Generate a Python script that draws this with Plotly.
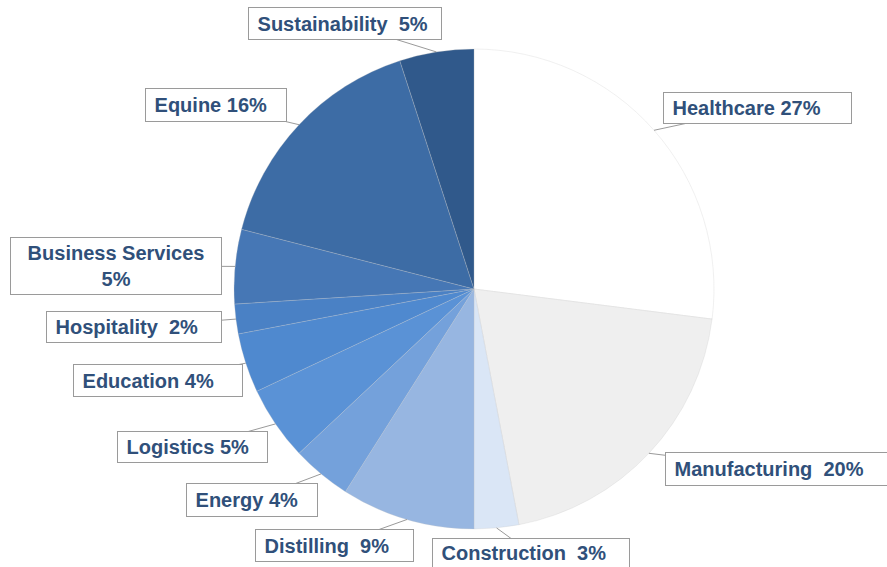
import math
import plotly.graph_objects as go

# ---- data ----
sectors = ["Healthcare", "Manufacturing", "Construction", "Distilling", "Energy",
           "Logistics", "Education", "Hospitality", "Business Services", "Equine",
           "Sustainability"]
shares = [27, 20, 3, 9, 4, 5, 4, 2, 5, 16, 5]
label_texts = [
    "Healthcare 27%", "Manufacturing\u00a0 20%", "Construction\u00a0 3%",
    "Distilling\u00a0 9%", "Energy 4%", "Logistics 5%", "Education 4%",
    "Hospitality\u00a0 2%", "Business Services<br>5%", "Equine 16%",
    "Sustainability\u00a0 5%",
]
colors = ["#ffffff", "#efefef", "#dae6f6", "#97b6e1", "#74a1db", "#5a92d6",
          "#4f89cf", "#4a81c5", "#4677b5", "#3d6ca5", "#30598b"]

# ---- layout geometry (pixels) ----
W, H = 887, 567
CX, CY, R = 474, 289, 240
# label boxes: x0, x1, y0, y1 (pixels from top-left)
boxes = {
    "Healthcare": (663, 852, 92, 124),
    "Manufacturing": (665, 889, 452, 486),
    "Construction": (432, 630, 538, 568),
    "Distilling": (255, 414, 529, 562),
    "Energy": (186, 318, 483, 517),
    "Logistics": (117, 268, 431, 463),
    "Education": (73, 243, 364, 397),
    "Hospitality": (46, 222, 311, 343),
    "Business Services": (10, 222, 237, 295),
    "Equine": (145, 287, 88, 122),
    "Sustainability": (248, 442, 7, 40),
}

fig = go.Figure(go.Pie(
    labels=sectors, values=shares, sort=False, direction="clockwise", rotation=0,
    marker=dict(colors=colors, line=dict(color="rgba(200,200,200,0.45)", width=0.6)),
    textinfo="none", hoverinfo="label+percent", showlegend=False,
    domain=dict(x=[(CX - R) / W, (CX + R) / W], y=[(H - CY - R) / H, (H - CY + R) / H]),
))

total = sum(shares)
cum = 0
annotations = []
for name, val, txt in zip(sectors, shares, label_texts):
    mid = (cum + val / 2) / total * 2 * math.pi
    cum += val
    tx = CX + R * math.sin(mid)
    ty = CY - R * math.cos(mid)
    x0, x1, y0, y1 = boxes[name]
    bcx, bcy = (x0 + x1) / 2, (y0 + y1) / 2
    two_line = "<br>" in txt
    annotations.append(dict(
        x=tx / W, y=1 - ty / H, xref="paper", yref="paper",
        ax=bcx - tx, ay=bcy - ty, axref="pixel", ayref="pixel",
        text=("<b>" + txt + "</b>") if two_line else ("<b>\u00a0" + txt + "</b>"),
        showarrow=True, arrowhead=0, arrowwidth=1, arrowcolor="#9a9a9a", standoff=0,
        bordercolor="#9a9a9a", borderwidth=1, borderpad=3, bgcolor="#ffffff",
        width=(x1 - x0) - 8, height=(y1 - y0) - 8,
        align="center" if two_line else "left", valign="middle",
        font=dict(family="Liberation Sans, Arial, sans-serif", size=20, color="#30507a"),
    ))

fig.update_layout(
    width=W, height=H, margin=dict(l=0, r=0, t=0, b=0),
    paper_bgcolor="#ffffff", plot_bgcolor="#ffffff",
    annotations=annotations,
)
fig.write_html("out.html", config={"displayModeBar": False},
               post_script="document.body.style.margin='0';")
